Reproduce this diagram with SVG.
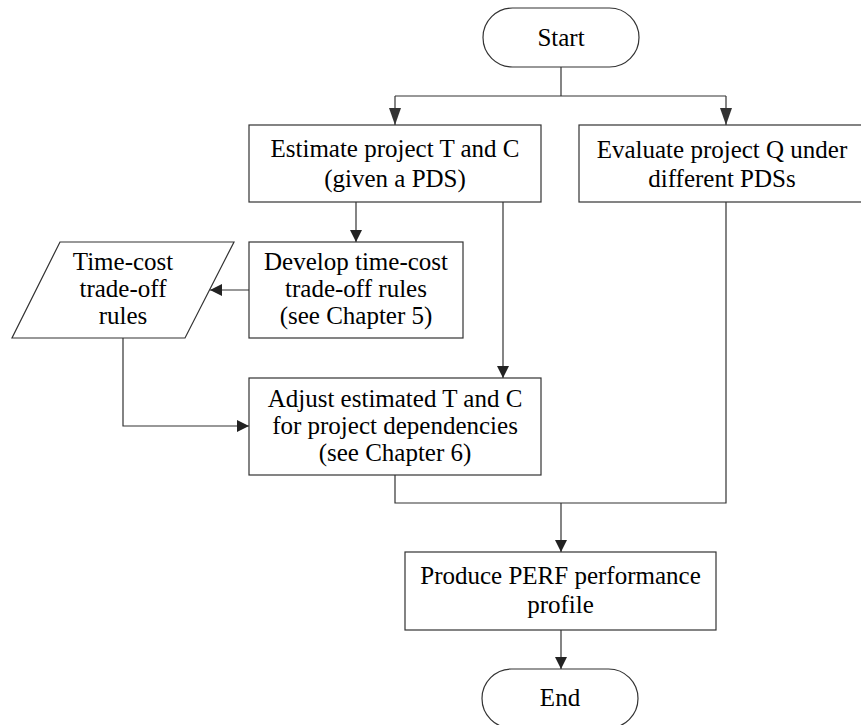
<svg xmlns="http://www.w3.org/2000/svg" width="861" height="725" viewBox="0 0 861 725">
  <style>
    .shape { fill: #ffffff; stroke: #333333; stroke-width: 1.2; }
    .wire { fill: none; stroke: #333333; stroke-width: 1.2; }
    .arrow { marker-end: url(#head); }
    .arrowLong { marker-end: url(#headLong); }
    .lbl { font-family: 'Liberation Serif', 'DejaVu Serif', serif; font-size: 25px; fill: #000000; text-anchor: middle; }
  </style>
  <defs>
    <marker id="head" markerUnits="userSpaceOnUse" markerWidth="12" markerHeight="12" refX="12" refY="6" orient="auto">
      <path d="M0,0 L12,6 L0,12 z" fill="#222222"/>
    </marker>
    <marker id="headLong" markerUnits="userSpaceOnUse" markerWidth="17" markerHeight="12" refX="17" refY="6" orient="auto">
      <path d="M0,0 L17,6 L0,12 z" fill="#333333"/>
    </marker>
  </defs>

  <rect width="861" height="725" fill="#ffffff"/>

  <g id="connectors">
    <path class="wire" d="M561,67 V96"/>
    <path class="wire" d="M395,96 H726"/>
    <path class="wire arrowLong" d="M395,96 V125"/>
    <path class="wire arrowLong" d="M726,96 V125"/>
    <path class="wire arrow" d="M356,202 V242"/>
    <path class="wire arrow" d="M503,202 V378"/>
    <path class="wire arrow" d="M249,290 H210"/>
    <path class="wire arrow" d="M123,338 V426 H249"/>
    <path class="wire" d="M395,475 V503 H726 V202"/>
    <path class="wire arrow" d="M561,503 V552"/>
    <path class="wire arrow" d="M561,630 V669"/>
  </g>

  <g id="start">
    <rect class="shape" x="483" y="8" width="156" height="59" rx="29.5" ry="29.5"/>
    <text class="lbl" x="561" y="46">Start</text>
  </g>

  <g id="estimate">
    <rect class="shape" x="249" y="125" width="292" height="77"/>
    <text class="lbl" x="395" y="157">Estimate project T and C</text>
    <text class="lbl" x="395" y="187">(given a PDS)</text>
  </g>

  <g id="evaluate">
    <rect class="shape" x="579" y="125" width="290" height="77"/>
    <text class="lbl" x="722" y="158">Evaluate project Q under</text>
    <text class="lbl" x="722" y="187">different PDSs</text>
  </g>

  <g id="develop">
    <rect class="shape" x="249" y="242" width="214" height="96"/>
    <text class="lbl" x="356" y="270">Develop time-cost</text>
    <text class="lbl" x="356" y="297">trade-off rules</text>
    <text class="lbl" x="356" y="324">(see Chapter 5)</text>
  </g>

  <g id="rules">
    <polygon class="shape" points="60,242 234,242 185,338 12,338"/>
    <text class="lbl" x="123" y="270">Time-cost</text>
    <text class="lbl" x="123" y="297">trade-off</text>
    <text class="lbl" x="123" y="324">rules</text>
  </g>

  <g id="adjust">
    <rect class="shape" x="249" y="378" width="292" height="97"/>
    <text class="lbl" x="395" y="407">Adjust estimated T and C</text>
    <text class="lbl" x="395" y="434">for project dependencies</text>
    <text class="lbl" x="395" y="461">(see Chapter 6)</text>
  </g>

  <g id="produce">
    <rect class="shape" x="405" y="552" width="311" height="78"/>
    <text class="lbl" x="560.5" y="584">Produce PERF performance</text>
    <text class="lbl" x="560.5" y="613">profile</text>
  </g>

  <g id="end">
    <rect class="shape" x="482" y="669" width="156" height="59" rx="29.5" ry="29.5"/>
    <text class="lbl" x="560" y="706">End</text>
  </g>
</svg>
